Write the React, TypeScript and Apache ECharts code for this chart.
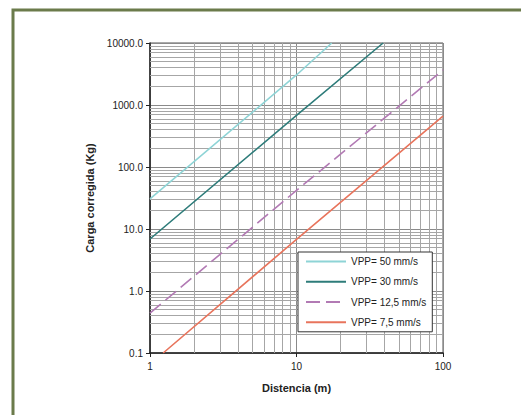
import React, { useEffect, useRef } from "react";
import * as echarts from "echarts";

// Distances (m) and corrected charge (Kg)
const vpp50: [number, number][] = [[1, 30.5], [10, 3050], [17.4, 10000]];
const vpp30: [number, number][] = [[1, 6.9], [10, 680], [39, 10000]];
const vpp125: [number, number][] = [[1, 0.44], [10, 42], [100, 3670]];
const vpp75: [number, number][] = [[1.23, 0.1], [10, 6.8], [100, 660]];

const seriesNames = ["VPP= 50 mm/s", "VPP= 30 mm/s", "VPP= 12,5 mm/s", "VPP= 7,5 mm/s"];
const seriesColors = ["#8ed4d6", "#2e7c7a", "#b27ab4", "#e8745c"];

const yMinorGrid = [
  0.2, 0.3, 0.4, 0.5, 0.6, 0.7, 0.8, 0.9,
  2, 3, 4, 5, 6, 7, 8, 9,
  20, 30, 40, 50, 60, 70, 80, 90,
  200, 300, 400, 500, 600, 700, 800, 900,
  2000, 3000, 4000, 5000, 6000, 7000, 8000, 9000,
];
const xMinorGrid = [2, 3, 4, 5, 6, 7, 8, 9, 20, 30, 40, 50, 60, 70, 80, 90];

const font = "'Liberation Sans', Arial, sans-serif";

export default function App() {
  const ref = useRef<HTMLDivElement>(null);
  useEffect(() => {
    if (!ref.current) return;
    const chart = echarts.init(ref.current, undefined, { renderer: "svg" });
    const gridColor = "#a6a6a6";
    const lineSeries = (i: number, data: [number, number][], dashed = false) => ({
      name: seriesNames[i],
      type: "line",
      data,
      symbol: "none",
      showSymbol: false,
      color: seriesColors[i],
      lineStyle: { color: seriesColors[i], width: 1.6, type: dashed ? [14, 6] : "solid" },
      z: 3,
    });
    chart.setOption({
      animation: false,
      backgroundColor: "#ffffff",
      textStyle: { fontFamily: font },
      graphic: [
        {
          type: "rect",
          shape: { x: 13, y: 10, width: 600, height: 500 },
          style: { fill: "none", stroke: "#6b7b4b", lineWidth: 3 },
          silent: true,
        },
      ],
      grid: {
        left: 150,
        top: 43,
        width: 293,
        height: 310,
        show: true,
        borderColor: "#555",
        borderWidth: 1,
        backgroundColor: "transparent",
      },
      legend: {
        data: seriesNames,
        orient: "vertical",
        left: 298,
        top: 252,
        z: 20,
        backgroundColor: "#ffffff",
        borderColor: "#333",
        borderWidth: 1,
        padding: [4, 6, 4, 7],
        itemWidth: 40,
        itemHeight: 14,
        itemGap: 9,
        itemStyle: { opacity: 0 },
        textStyle: { fontFamily: font, fontSize: 10, color: "#222" },
      },
      xAxis: {
        type: "log",
        logBase: 10,
        min: 1,
        max: 100,
        name: "Distencia (m)",
        nameLocation: "middle",
        nameGap: 29,
        nameTextStyle: { fontFamily: font, fontSize: 11, fontWeight: "bold", color: "#222" },
        axisLine: { show: true, lineStyle: { color: "#222", width: 1.5 } },
        axisTick: { show: true, length: 4, lineStyle: { color: "#222" } },
        axisLabel: { fontFamily: font, fontSize: 10, color: "#222", margin: 8 },
        splitLine: { show: true, lineStyle: { color: "#8a8a8a", width: 1 } },
      },
      yAxis: {
        type: "log",
        logBase: 10,
        min: 0.1,
        max: 10000,
        name: "Carga corregida (Kg)",
        nameLocation: "middle",
        nameGap: 55,
        nameTextStyle: { fontFamily: font, fontSize: 11, fontWeight: "bold", color: "#222" },
        axisLine: { show: true, lineStyle: { color: "#222", width: 1.5 } },
        axisTick: { show: true, length: 4, lineStyle: { color: "#222" } },
        axisLabel: {
          fontFamily: font,
          fontSize: 10,
          color: "#222",
          margin: 7,
          formatter: (v: number) => v.toFixed(1),
        },
        splitLine: { show: true, lineStyle: { color: "#8a8a8a", width: 1 } },
      },
      series: [
        {
          name: "grid",
          type: "line",
          data: [],
          silent: true,
          z: 1,
          markLine: {
            silent: true,
            z: 1,
            symbol: ["none", "none"],
            label: { show: false },
            lineStyle: { color: gridColor, width: 1, type: "solid" },
            data: [
              ...yMinorGrid.map((v) => ({ yAxis: v })),
              ...xMinorGrid.map((v) => ({ xAxis: v })),
            ],
          },
        },
        lineSeries(0, vpp50),
        lineSeries(1, vpp30),
        lineSeries(2, vpp125, true),
        lineSeries(3, vpp75),
      ],
    });
    return () => chart.dispose();
  }, []);
  return (
    <div
      ref={ref}
      style={{ position: "fixed", left: 0, top: 0, width: 521, height: 415, background: "#fff" }}
    />
  );
}
